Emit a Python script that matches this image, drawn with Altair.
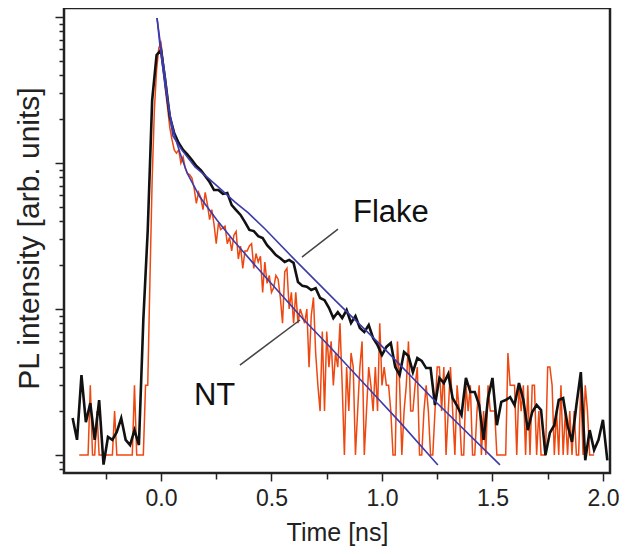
import altair as alt
import pandas as pd

# ---------------- data ----------------
# Flake (black) trace: sampled every 0.02 ns starting at -0.40 ns
flake_start, flake_step = -0.40, 0.02
flake_intensity = [
    1.79, 1.27, 3.53, 1.68, 2.27, 1.27, 2.38, 0.86, 1.33, 1.27, 1.44, 1.79, 1.27, 1.17, 1.48, 1.17,
    8.41, 34.8, 270, 550, 594,
    359, 207, 160, 137, 123, 114, 105, 95.3, 89.5, 81.5, 74.1, 65.3, 65.3, 61.4, 62.4, 51.5, 47.6,
    44.1, 39.4, 34.8, 34.2, 31.6, 30.6,
    27.4, 25.4, 23.4, 22.3, 21.0, 21.7, 20.7, 15.3, 14.4, 14.2, 13.5, 13.9, 11.9, 11.5, 10.2, 8.67,
    9.53, 8.67, 9.84, 8.02, 8.95, 7.41, 6.95, 7.76, 6.32,
    5.66, 4.84, 5.50, 5.85, 4.01, 3.53, 5.07, 4.76, 3.70, 4.61, 4.41, 3.94, 3.94, 2.20, 3.37, 3.11,
    3.59, 2.45, 2.17, 1.88, 3.37, 2.70, 2.70, 2.20, 1.27, 2.45,
    3.37, 1.60, 2.31, 2.38, 2.49, 2.20, 3.11, 2.38, 1.48, 1.97, 2.20, 2.03, 1.00, 1.42, 1.60, 2.38,
    2.45, 1.60, 1.23, 2.20, 3.70, 0.92, 1.48, 1.08, 1.27, 1.74, 0.92,
]

# NT (orange) trace: photon counts every 0.01 ns starting at -0.37 ns
nt_start, nt_step = -0.37, 0.01
nt_counts = [
    1, 1, 1, 1, 1, 3, 1, 1, 2, 1, 1, 1, 1, 1, 1, 1, 2, 1, 1, 1, 1, 1, 1, 1, 1, 3, 1, 1, 1, 1, 3, 3,
    16, 77, 231, 433, 613, 664, 492, 316, 238, 174, 144, 123, 117, 123, 100, 110, 92, 85, 83, 79,
    67, 53, 63, 58, 48, 63, 52, 41, 48, 38, 28, 39, 35, 36, 37, 28, 31, 25, 32, 34, 22, 27, 19,
    25, 25, 27, 28, 19, 24, 21, 23, 13, 21, 15, 17, 13, 14, 17, 16, 12, 8, 18, 19, 10, 13, 8, 13,
    8, 10, 9, 8, 10, 4, 9, 12, 5, 3, 2, 7, 2, 7, 4, 6, 3, 5, 4, 8, 3, 1, 4, 2, 5, 4, 1, 2, 4, 6,
    1, 2, 4, 3, 2, 4, 2, 8, 3, 4, 3, 3, 2, 1, 1, 6, 3, 1, 2, 3, 6, 2, 2, 3, 4, 1, 1, 2, 3, 2, 1,
    1, 2, 4, 4, 2, 4, 1, 2, 4, 2, 1, 3, 2, 1, 1, 3, 2, 3, 1, 1, 2, 3, 1, 2, 1, 3,
    2, 2, 2, 1, 1, 1, 1, 1, 5, 3, 3, 3, 1, 3, 2, 3, 1, 3, 1, 3, 3, 1, 2, 1, 1, 1, 4, 4, 3, 1, 2,
    1, 3, 1, 2, 1, 2, 1, 2, 1, 1, 3, 1, 3, 2, 1, 1, 1,
]

# Bi-exponential fit curves (blue)
fit_flake_time = [-0.018, -0.005, 0.018, 0.036, 0.054, 0.094, 0.154, 0.214, 0.275, 0.335, 0.395,
                  0.471, 0.606, 0.787, 0.995, 1.249, 1.534]
fit_flake_int = [985, 696, 401, 231, 153, 123, 93.9, 78.9, 65.3, 54.0, 45.5, 35.3, 21.7, 11.5,
                 5.66, 2.27, 0.855]
fit_nt_time = [-0.018, -0.005, 0.018, 0.041, 0.063, 0.086, 0.118, 0.176, 0.253, 0.326, 0.416,
               0.493, 0.643, 0.765, 0.946, 1.081, 1.253]
fit_nt_int = [985, 643, 342, 213, 151, 117, 85.5, 58.5, 40.7, 29.7, 20.7, 15.3, 8.55, 5.49, 2.79,
              1.68, 0.855]

# Annotations
label_text = ["Flake", "NT"]
label_time = [0.869, 0.149]
label_int = [39.4, 2.2]
leader_time = [0.638, 0.357]
leader_int = [22.7, 4.13]
leader_time2 = [0.801, 0.629]
leader_int2 = [35.3, 8.41]

x_ticks = [-0.25, 0.0, 0.25, 0.5, 0.75, 1.0, 1.25, 1.5, 1.75, 2.0]
y_ticks = [0.8, 0.9] + [m * 10 ** e for e in range(0, 3) for m in range(1, 10)] + [1000]

# ---------------- tables ----------------
flake_df = pd.DataFrame({
    "time": [round(flake_start + flake_step * i, 3) for i in range(len(flake_intensity))],
    "intensity": flake_intensity,
})
nt_df = pd.DataFrame({
    "time": [round(nt_start + nt_step * i, 3) for i in range(len(nt_counts))],
    "intensity": nt_counts,
})
fit_df = pd.concat([
    pd.DataFrame({"time": fit_flake_time, "intensity": fit_flake_int, "fit": "Flake"}),
    pd.DataFrame({"time": fit_nt_time, "intensity": fit_nt_int, "fit": "NT"}),
])
label_df = pd.DataFrame({"text": label_text, "time": label_time, "intensity": label_int})
leader_df = pd.DataFrame({"time": leader_time, "intensity": leader_int,
                          "time2": leader_time2, "intensity2": leader_int2})

# ---------------- scales / axes ----------------
FONT = "Liberation Sans"
INK = "#222222"
x_scale = alt.Scale(domain=[-0.439, 2.032], nice=False, zero=False)
y_scale = alt.Scale(type="log", domain=[0.753, 1153], nice=False)

major_x = "abs(datum.value * 2 - round(datum.value * 2)) < 0.001"
x_axis = alt.Axis(
    values=x_ticks, grid=False, domain=False,
    labelExpr=f"{major_x} ? format(datum.value, '.1f') : ''",
    tickSize={"condition": {"test": major_x, "value": 8}, "value": 6},
    tickColor=INK, tickWidth=1.5,
    labelFont=FONT, labelColor=INK, labelFontSize=23, labelPadding=6, labelFlush=False,
    titleFont=FONT, titleColor=INK, titleFontWeight="normal",
    titleFontSize=25, titleY=67, titleBaseline="alphabetic",
)
y_axis = alt.Axis(
    values=y_ticks, labels=False, grid=False, domain=False,
    tickSize={"condition": {"test": "indexof([1, 10, 100, 1000], datum.value) >= 0", "value": 9},
              "value": 5},
    tickColor=INK, tickWidth=1.5,
    titleFont=FONT, titleColor=INK, titleFontWeight="normal",
    titleFontSize=30, titleX=-26, titleY=230, titleAngle=270,
    titleBaseline="alphabetic", titleAlign="center",
)


def X(field="time"):
    return alt.X(f"{field}:Q", scale=x_scale, axis=x_axis, title="Time [ns]")


def Y(field="intensity"):
    return alt.Y(f"{field}:Q", scale=y_scale, axis=y_axis, title="PL intensity [arb. units]")


nt_line = alt.Chart(nt_df).mark_line(color="#ee4811", strokeWidth=1.5, clip=True).encode(
    x=X(), y=Y())
flake_line = alt.Chart(flake_df).mark_line(color="#111111", strokeWidth=2.6, clip=True).encode(
    x=X(), y=Y())
fit_lines = alt.Chart(fit_df).mark_line(color="#3b3bab", strokeWidth=1.6, clip=True).encode(
    x=X(), y=Y(), detail="fit:N", order="time:Q")
leaders = alt.Chart(leader_df).mark_rule(color="#444444", strokeWidth=1.5).encode(
    x=X(), y=Y(), x2="time2:Q", y2="intensity2:Q")
labels = alt.Chart(label_df).mark_text(
    font=FONT, fontSize=31, align="left", baseline="alphabetic", color="#111111"
).encode(x=X(), y=Y(), text="text:N")

chart = (
    alt.layer(nt_line, flake_line, fit_lines, leaders, labels)
    .properties(width=546, height=465, background="white",
                autosize=alt.AutoSizeParams(type="none"),
                padding={"left": 56, "top": 0, "right": 9, "bottom": 73})
    .configure_view(stroke=INK, strokeWidth=2.5)
    .configure_axis(grid=False, domain=False, labelFont=FONT, titleFont=FONT)
)

chart.save("out.html", embed_options={"renderer": "svg", "actions": False})
